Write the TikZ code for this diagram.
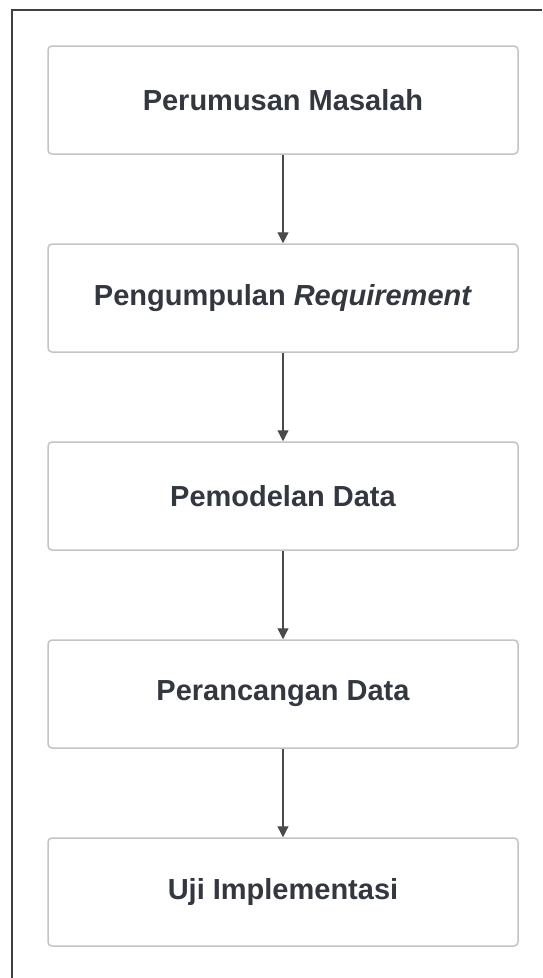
\documentclass[tikz,border=0pt]{standalone}
\usepackage{fontspec}
\setmainfont{Liberation Sans}
\usetikzlibrary{arrows.meta}
\definecolor{txt}{HTML}{333740}
\definecolor{boxline}{HTML}{C4C4C4}
\definecolor{arr}{HTML}{4A4A4A}
\begin{document}
\begin{tikzpicture}[x=1pt,y=-1pt,
  stepbox/.style={draw=boxline,line width=1.5pt,rounded corners=4pt,fill=white,
    minimum width=470pt,minimum height=108pt,inner sep=0pt,
    font=\fontsize{29}{34}\selectfont\bfseries,text=txt},
  conn/.style={draw=arr,line width=1.2pt,-{Triangle[length=11pt,width=11pt]}}]
\useasboundingbox (0,0) rectangle (542,978);
\fill[white] (0,0) rectangle (542,978);
\draw[line width=2pt,draw=black!75] (12,978) -- (12,10) -- (542,10);
\node[stepbox] (a) at (283,100) {Perumusan Masalah};
\node[stepbox] (b) at (283,298) {Pengumpulan \textit{Requirement}};
\node[stepbox] (c) at (283,496) {Pemodelan Data};
\node[stepbox] (d) at (283,694) {Perancangan Data};
\node[stepbox] (e) at (283,892) {Uji Implementasi};
\draw[conn] (a) -- (b);
\draw[conn] (b) -- (c);
\draw[conn] (c) -- (d);
\draw[conn] (d) -- (e);
\end{tikzpicture}
\end{document}
